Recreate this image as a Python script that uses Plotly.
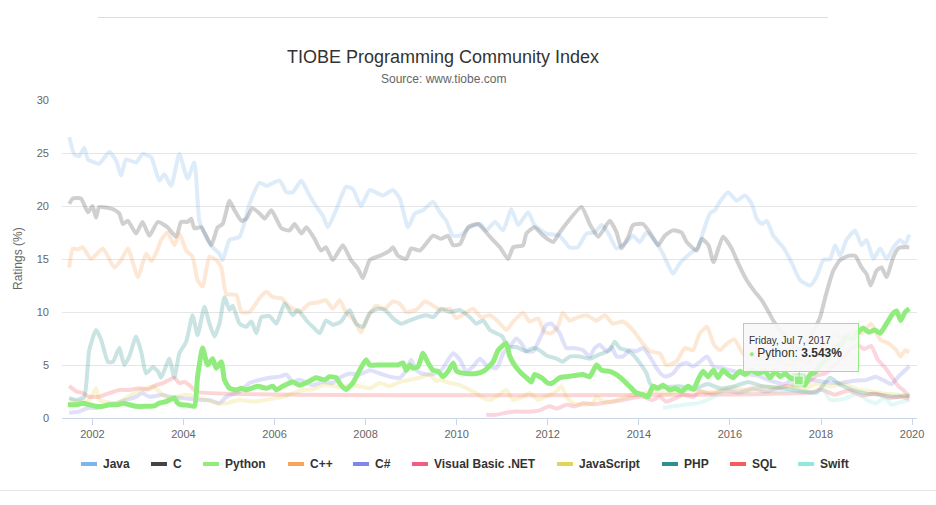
import plotly.graph_objects as go
from datetime import datetime

# ---------------- data (decimal year, rating %) ----------------
java_t = [2001.49, 2001.6, 2001.71, 2001.82, 2001.9, 2002.15, 2002.37, 2002.52, 2002.63, 2002.74, 2002.96, 2003.1, 2003.29,
          2003.47, 2003.58, 2003.73, 2003.91, 2004.09, 2004.24, 2004.35, 2004.5, 2004.64, 2004.79, 2004.86, 2005.01, 2005.23,
          2005.45, 2005.67, 2005.82, 2006.11, 2006.26, 2006.4, 2006.59, 2006.73, 2006.91, 2007.06, 2007.17, 2007.35, 2007.57,
          2007.72, 2007.9, 2008.09, 2008.38, 2008.6, 2008.75, 2008.93, 2009.08, 2009.26, 2009.48, 2009.63, 2009.77, 2009.92,
          2010.07, 2010.29, 2010.51, 2010.65, 2010.84, 2011.02, 2011.2, 2011.35, 2011.57, 2011.71, 2011.97, 2012.26, 2012.48,
          2012.66, 2012.85, 2013.03, 2013.18, 2013.32, 2013.51, 2013.73, 2013.87, 2014.02, 2014.17, 2014.35, 2014.53, 2014.75,
          2014.9, 2015.12, 2015.3, 2015.41, 2015.56, 2015.67, 2015.78, 2015.96, 2016.15, 2016.33, 2016.48, 2016.59, 2016.7,
          2016.81, 2016.95, 2017.17, 2017.35, 2017.54, 2017.76, 2017.9, 2018.05, 2018.2, 2018.31, 2018.42, 2018.56, 2018.75,
          2018.89, 2019.0, 2019.15, 2019.3, 2019.44, 2019.59, 2019.74, 2019.85, 2019.94]
java_v = [26.5, 24.9, 24.7, 25.5, 24.4, 24.0, 25.1, 24.3, 22.9, 24.4, 24.1, 24.9, 24.6,
          22.4, 23.0, 21.9, 24.9, 22.6, 24.1, 18.6, 17.1, 16.1, 15.5, 14.9, 16.8, 17.1,
          20.2, 22.2, 21.9, 22.4, 21.3, 21.3, 22.4, 21.3, 20.0, 19.1, 18.0, 19.6, 21.8,
          21.6, 20.0, 21.5, 21.0, 21.5, 20.7, 18.0, 19.3, 19.6, 20.4, 19.4, 18.6, 17.2,
          17.2, 18.0, 18.3, 17.7, 18.5, 17.7, 19.7, 18.2, 19.4, 18.2, 17.4, 17.2, 16.1,
          16.1, 17.4, 17.5, 18.2, 17.5, 16.0, 16.6, 17.2, 16.6, 17.5, 16.8, 15.5, 13.6,
          14.6, 15.5, 16.1, 17.5, 19.3, 19.6, 20.4, 21.3, 20.5, 21.0, 20.2, 18.8, 18.3,
          18.6, 17.2, 16.1, 14.7, 13.0, 12.5, 13.3, 14.9, 15.0, 16.3, 15.3, 16.8, 17.7,
          16.3, 16.8, 15.0, 16.0, 15.0, 16.1, 16.8, 16.4, 17.3]

c_t = [2001.49, 2001.57, 2001.75, 2001.9, 2002.0, 2002.08, 2002.15, 2002.45, 2002.59, 2002.67, 2002.78, 2002.96, 2003.1,
       2003.25, 2003.44, 2003.65, 2003.84, 2003.95, 2004.09, 2004.17, 2004.24, 2004.39, 2004.61, 2004.75, 2004.86, 2005.01,
       2005.12, 2005.27, 2005.38, 2005.51, 2005.67, 2005.78, 2005.93, 2006.15, 2006.33, 2006.44, 2006.59, 2006.7, 2006.88,
       2007.02, 2007.13, 2007.28, 2007.5, 2007.68, 2007.83, 2007.94, 2008.09, 2008.31, 2008.53, 2008.6, 2008.71, 2008.89,
       2009.0, 2009.19, 2009.48, 2009.66, 2009.81, 2009.92, 2010.07, 2010.25, 2010.47, 2010.73, 2010.95, 2011.13, 2011.24,
       2011.46, 2011.53, 2011.71, 2011.9, 2012.12, 2012.26, 2012.74, 2012.92, 2013.11, 2013.36, 2013.51, 2013.62, 2013.77,
       2013.87, 2014.09, 2014.24, 2014.42, 2014.57, 2014.75, 2014.94, 2015.05, 2015.27, 2015.38, 2015.53, 2015.64, 2015.85,
       2016.04, 2016.15, 2016.37, 2016.55, 2016.7, 2016.85, 2016.95, 2017.15, 2017.35, 2017.55, 2017.75, 2017.98, 2018.1,
       2018.27, 2018.42, 2018.6, 2018.75, 2018.89, 2019.0, 2019.09, 2019.22, 2019.33, 2019.44, 2019.59, 2019.7, 2019.78,
       2019.94]
c_v = [20.2, 20.7, 20.7, 19.4, 20.0, 18.9, 19.9, 19.7, 19.3, 18.3, 18.6, 17.4, 18.5,
       17.2, 18.5, 18.0, 17.1, 18.5, 18.5, 18.8, 17.9, 18.0, 16.3, 18.0, 18.3, 20.5,
       19.6, 18.6, 18.8, 19.8, 19.3, 18.8, 19.6, 17.9, 17.7, 18.3, 17.4, 18.0, 16.9,
       15.8, 16.1, 14.9, 16.3, 14.9, 14.1, 13.2, 14.9, 15.3, 15.8, 16.1, 15.3, 15.0,
       16.0, 15.8, 17.2, 16.9, 17.2, 16.3, 16.4, 18.0, 18.3, 17.1, 16.1, 15.0, 16.1,
       16.3, 17.4, 18.0, 17.2, 16.6, 17.5, 19.9, 18.3, 17.1, 18.6, 17.5, 16.0, 17.1,
       18.2, 18.3, 17.5, 16.3, 17.2, 17.7, 17.5, 16.6, 15.8, 16.9, 16.3, 14.7, 17.1,
       16.0, 14.9, 13.0, 11.9, 11.1, 10.0, 9.2, 8.0, 7.0, 6.5, 7.5, 9.5, 11.5,
       13.9, 14.9, 15.3, 15.3, 14.2, 13.6, 12.5, 13.9, 14.2, 13.3, 15.2, 16.0, 16.1,
       16.1]

python_t = [2001.46, 2001.65, 2001.8, 2001.93, 2002.08, 2002.23, 2002.37, 2002.55, 2002.67, 2002.81, 2002.96, 2003.18,
            2003.36, 2003.47, 2003.62, 2003.8, 2003.87, 2003.95, 2004.1, 2004.24, 2004.31, 2004.42, 2004.53, 2004.64,
            2004.72, 2004.83, 2004.9, 2005.01, 2005.16, 2005.27, 2005.38, 2005.49, 2005.63, 2005.82, 2005.96, 2006.04,
            2006.18, 2006.4, 2006.55, 2006.73, 2006.91, 2007.1, 2007.21, 2007.35, 2007.46, 2007.57, 2007.72, 2007.87,
            2008.01, 2008.09, 2008.3, 2008.53, 2008.71, 2008.82, 2008.89, 2008.97, 2009.04, 2009.15, 2009.26, 2009.37,
            2009.48, 2009.59, 2009.7, 2009.81, 2009.92, 2010.0, 2010.21, 2010.43, 2010.62, 2010.8, 2010.91, 2011.09,
            2011.16, 2011.24, 2011.38, 2011.53, 2011.64, 2011.71, 2011.86, 2012.0, 2012.1, 2012.26, 2012.41, 2012.59,
            2012.77, 2012.92, 2013.07, 2013.18, 2013.36, 2013.51, 2013.65, 2013.77, 2013.87, 2013.95, 2014.09, 2014.2,
            2014.31, 2014.42, 2014.53, 2014.68, 2014.8, 2014.94, 2015.08, 2015.2, 2015.3, 2015.41, 2015.52, 2015.64,
            2015.74, 2015.85, 2015.96, 2016.07, 2016.22, 2016.33, 2016.47, 2016.62, 2016.77, 2016.88, 2016.99, 2017.1,
            2017.21, 2017.32, 2017.512, 2017.65, 2017.76, 2017.87, 2017.98, 2018.12, 2018.27, 2018.42, 2018.56, 2018.7,
            2018.8, 2018.92, 2019.05, 2019.18, 2019.3, 2019.44, 2019.59, 2019.66, 2019.75, 2019.85, 2019.94]
python_v = [1.25, 1.25, 1.4, 1.25, 1.1, 1.1, 1.25, 1.25, 1.4, 1.25, 1.1, 1.1,
            1.15, 1.4, 1.55, 1.9, 1.4, 1.25, 1.2, 1.1, 3.9, 6.6, 5.0, 5.6,
            4.7, 5.3, 3.6, 2.8, 2.65, 2.8, 2.65, 2.8, 3.0, 2.8, 3.0, 2.65,
            3.0, 3.4, 3.1, 3.4, 3.8, 3.6, 3.9, 3.8, 3.1, 2.7, 3.3, 4.5,
            5.5, 5.0, 5.0, 5.0, 5.0, 5.2, 4.5, 5.0, 4.7, 4.85, 6.1, 5.2,
            4.5, 4.4, 3.9, 4.4, 5.2, 4.4, 4.2, 4.2, 4.5, 5.3, 6.4, 7.05,
            5.9, 5.2, 4.4, 3.8, 3.4, 4.1, 3.8, 3.3, 3.3, 3.8, 3.9, 4.0,
            4.1, 3.9, 5.0, 4.5, 4.4, 4.1, 3.6, 3.1, 2.65, 2.35, 2.2, 2.0,
            3.0, 2.8, 3.1, 2.65, 2.8, 2.5, 3.0, 2.7, 3.6, 4.4, 3.9, 4.5,
            3.8, 4.5, 4.1, 3.8, 4.4, 4.1, 4.5, 4.2, 4.4, 3.8, 4.4, 3.9,
            4.2, 3.8, 3.543, 3.1, 4.1, 4.3, 5.0, 5.5, 6.4, 6.9, 7.6, 7.5,
            8.0, 8.5, 8.1, 8.3, 8.0, 8.9, 9.9, 10.1, 9.2, 10.0, 10.3]

cpp_t = [2001.49, 2001.57, 2001.68, 2001.79, 2001.97, 2002.23, 2002.48, 2002.63, 2002.78, 2003.0, 2003.18, 2003.3, 2003.44,
         2003.51, 2003.65, 2003.8, 2003.91, 2004.06, 2004.2, 2004.31, 2004.42, 2004.57, 2004.72, 2004.83, 2004.94, 2005.16,
         2005.27, 2005.45, 2005.67, 2005.82, 2005.96, 2006.15, 2006.33, 2006.55, 2006.77, 2006.95, 2007.13, 2007.28,
         2007.43, 2007.57, 2007.76, 2007.9, 2008.05, 2008.23, 2008.42, 2008.6, 2008.75, 2008.89, 2009.11, 2009.3, 2009.48,
         2009.63, 2009.85, 2009.99, 2010.18, 2010.36, 2010.54, 2010.73, 2010.91, 2011.09, 2011.24, 2011.46, 2011.6,
         2011.79, 2011.93, 2012.08, 2012.22, 2012.33, 2012.48, 2012.66, 2012.85, 2013.07, 2013.25, 2013.43, 2013.65,
         2013.87, 2014.09, 2014.24, 2014.46, 2014.6, 2014.82, 2015.01, 2015.19, 2015.34, 2015.5, 2015.64, 2015.78,
         2015.93, 2016.1, 2016.3, 2016.5, 2016.7, 2016.9, 2017.1, 2017.3, 2017.5, 2017.7, 2017.9, 2018.1, 2018.3, 2018.5,
         2018.7, 2018.9, 2019.1, 2019.3, 2019.5, 2019.65, 2019.75, 2019.85, 2019.94]
cpp_v = [14.2, 16.0, 15.9, 16.1, 15.0, 16.0, 14.2, 14.9, 16.0, 13.3, 15.5, 14.8, 16.0,
         16.8, 17.5, 16.3, 17.4, 15.8, 15.2, 13.0, 12.4, 15.2, 14.9, 14.2, 11.7, 11.6,
         10.0, 10.0, 11.3, 11.9, 11.4, 11.3, 10.5, 10.0, 10.8, 10.9, 11.1, 10.3,
         11.1, 10.0, 9.2, 8.1, 9.5, 10.6, 10.3, 11.0, 10.8, 10.0, 10.2, 11.0, 10.6,
         10.2, 10.3, 9.4, 9.9, 10.3, 9.5, 9.7, 9.1, 8.3, 9.1, 9.9, 9.1,
         9.4, 8.1, 8.0, 8.6, 9.9, 9.2, 9.5, 9.7, 9.2, 9.7, 8.9, 9.1,
         8.3, 7.0, 6.3, 6.1, 5.0, 5.3, 6.6, 6.4, 8.0, 8.6, 7.0, 6.4,
         7.0, 7.4, 6.0, 5.8, 5.5, 5.7, 5.4, 5.0, 5.6, 5.2, 5.8, 7.4, 7.9, 7.5,
         8.2, 8.0, 8.9, 7.4, 7.0, 6.4, 5.8, 6.4, 6.2]

csharp_t = [2001.49, 2001.7, 2001.9, 2002.08, 2002.3, 2002.52, 2002.74, 2002.96, 2003.1, 2003.25, 2003.55, 2003.7, 2003.91,
            2004.35, 2004.57, 2004.79, 2004.94, 2005.23, 2005.45, 2005.67, 2005.89, 2006.11, 2006.26, 2006.4, 2006.55,
            2006.84, 2007.06, 2007.28, 2007.43, 2007.65, 2007.87, 2008.09, 2008.31, 2008.53, 2008.75, 2008.89, 2009.0,
            2009.1, 2009.22, 2009.44, 2009.66, 2009.92, 2010.07, 2010.21, 2010.36, 2010.51, 2010.65, 2010.87, 2010.95,
            2011.02, 2011.16, 2011.31, 2011.42, 2011.53, 2011.68, 2011.86, 2011.97, 2012.08, 2012.26, 2012.41, 2012.55,
            2012.77, 2012.92, 2013.03, 2013.14, 2013.29, 2013.4, 2013.51, 2013.65, 2013.8, 2013.95, 2014.09, 2014.24,
            2014.39, 2014.5, 2014.6, 2014.75, 2014.9, 2015.05, 2015.19, 2015.34, 2015.5, 2015.64, 2015.85, 2016.0, 2016.3,
            2016.6, 2016.9, 2017.2, 2017.5, 2017.8, 2018.1, 2018.4, 2018.7, 2019.0, 2019.2, 2019.4, 2019.55, 2019.7,
            2019.85, 2019.94]
csharp_v = [0.5, 0.6, 0.95, 0.95, 1.25, 1.4, 1.7, 2.0, 2.35, 2.0, 2.2, 2.0, 1.9,
            1.7, 1.7, 1.4, 2.0, 2.5, 3.3, 3.6, 3.8, 3.9, 4.1, 3.4, 3.6,
            3.1, 3.4, 3.3, 3.8, 4.2, 4.1, 4.5, 4.2, 3.9, 3.8, 4.5, 5.5,
            4.6, 4.2, 4.1, 4.5, 6.1, 5.5, 4.4, 4.85, 5.6, 5.0, 4.7, 5.3,
            6.1, 6.7, 7.5, 7.05, 6.3, 6.3, 7.8, 8.8, 8.9, 8.0, 6.6, 6.6,
            6.4, 5.8, 6.6, 6.9, 6.3, 6.7, 5.8, 5.8, 6.4, 6.3, 6.6, 5.8,
            4.7, 4.1, 3.9, 4.2, 5.0, 5.2, 4.85, 5.3, 5.8, 4.85, 4.7, 4.5, 4.2,
            4.0, 3.5, 3.2, 4.0, 3.6, 3.4, 3.3, 3.5, 3.6, 3.9, 3.5, 3.2, 3.9,
            4.5, 4.9]

vbnet_t = [2010.65, 2010.87, 2011.09, 2011.24, 2011.6, 2011.8, 2012.04, 2012.2, 2012.41, 2012.6, 2012.77, 2012.99, 2013.2,
           2013.43, 2013.65, 2013.87, 2014.09, 2014.3, 2014.46, 2014.6, 2014.82, 2014.97, 2015.2, 2015.34, 2015.6, 2015.9,
           2016.2, 2016.5, 2016.8, 2017.1, 2017.4, 2017.7, 2017.9, 2018.1, 2018.3, 2018.5, 2018.65, 2018.8, 2018.95,
           2019.1, 2019.25, 2019.4, 2019.55, 2019.7, 2019.82, 2019.94]
vbnet_v = [0.3, 0.3, 0.5, 0.6, 0.6, 0.7, 1.1, 0.9, 1.25, 1.1, 1.4, 1.3, 1.4,
           1.55, 1.7, 1.9, 2.0, 1.7, 2.0, 1.55, 1.9, 2.2, 2.0, 2.5, 2.3, 2.6,
           2.4, 2.8, 2.5, 2.9, 3.1, 3.3, 4.0, 4.2, 5.0, 5.8, 6.4, 6.9, 6.5,
           6.8, 5.5, 4.8, 3.9, 3.0, 2.6, 2.0]

js_t = [2001.49, 2001.71, 2001.93, 2002.08, 2002.15, 2002.52, 2002.74, 2003.0, 2003.18, 2003.33, 2003.47, 2003.62, 2003.84,
        2004.06, 2004.28, 2004.5, 2004.72, 2004.94, 2005.23, 2005.52, 2005.82, 2006.07, 2006.2, 2006.4, 2006.62, 2006.84,
        2006.99, 2007.21, 2007.43, 2007.65, 2007.87, 2008.09, 2008.31, 2008.53, 2008.75, 2008.97, 2009.19, 2009.41,
        2009.55, 2009.63, 2009.85, 2010.07, 2010.29, 2010.43, 2010.58, 2010.73, 2010.9, 2011.09, 2011.24, 2011.45, 2011.6,
        2011.79, 2011.95, 2012.19, 2012.3, 2012.41, 2012.55, 2012.77, 2012.99, 2013.07, 2013.2, 2013.43, 2013.65, 2013.87,
        2014.09, 2014.3, 2014.6, 2014.9, 2015.2, 2015.5, 2015.8, 2016.1, 2016.4, 2016.7, 2017.0, 2017.3, 2017.6, 2017.9,
        2018.2, 2018.5, 2018.8, 2019.1, 2019.4, 2019.7, 2019.94]
js_v = [1.7, 1.55, 1.7, 2.8, 1.7, 1.4, 1.9, 2.5, 2.8, 3.0, 2.5, 1.9, 2.0,
        2.2, 2.0, 1.7, 1.4, 1.4, 1.7, 1.55, 1.7, 1.9, 2.0, 2.35, 2.65, 2.7,
        3.0, 3.1, 2.9, 3.1, 3.0, 2.8, 3.3, 3.0, 3.4, 3.6, 3.8, 4.1,
        3.5, 3.6, 3.3, 3.1, 2.65, 2.35, 1.9, 1.7, 2.1, 2.65, 1.7, 2.0, 2.35,
        1.7, 2.0, 2.5, 3.0, 2.0, 1.4, 1.25, 1.4, 2.0, 1.6, 1.55, 1.9, 2.2,
        2.35, 2.5, 2.3, 2.5, 2.7, 2.4, 2.6, 2.9, 2.6, 3.0, 2.8, 3.0, 2.7, 3.2,
        3.0, 3.2, 2.7, 2.5, 2.3, 2.2, 2.1]

php_t = [2001.49, 2001.65, 2001.82, 2001.93, 2002.08, 2002.19, 2002.34, 2002.45, 2002.59, 2002.7, 2002.81, 2002.96, 2003.07,
         2003.18, 2003.33, 2003.44, 2003.51, 2003.69, 2003.8, 2003.91, 2004.06, 2004.2, 2004.31, 2004.46, 2004.57, 2004.68,
         2004.79, 2004.9, 2005.01, 2005.08, 2005.23, 2005.38, 2005.49, 2005.6, 2005.71, 2005.89, 2006.04, 2006.22, 2006.4,
         2006.51, 2006.7, 2006.84, 2006.99, 2007.13, 2007.28, 2007.46, 2007.65, 2007.79, 2007.94, 2008.09, 2008.27,
         2008.42, 2008.6, 2008.78, 2008.97, 2009.15, 2009.33, 2009.48, 2009.66, 2009.85, 2010.07, 2010.29, 2010.43,
         2010.58, 2010.73, 2010.87, 2011.0, 2011.13, 2011.31, 2011.53, 2011.68, 2011.82, 2011.97, 2012.19, 2012.33,
         2012.48, 2012.7, 2012.92, 2013.14, 2013.36, 2013.47, 2013.58, 2013.73, 2013.87, 2014.02, 2014.17, 2014.24,
         2014.35, 2014.6, 2014.9, 2015.2, 2015.5, 2015.8, 2016.1, 2016.4, 2016.7, 2017.0, 2017.3, 2017.6, 2017.9, 2018.2,
         2018.4, 2018.7, 2019.0, 2019.3, 2019.6, 2019.94]
php_v = [1.9, 1.7, 2.0, 6.4, 8.3, 7.4, 5.3, 5.3, 6.6, 5.0, 5.8, 7.7, 6.3,
         4.2, 4.8, 4.4, 3.8, 5.6, 3.8, 6.1, 7.2, 9.7, 7.8, 10.5, 8.9, 7.7,
         8.9, 11.4, 10.2, 10.6, 8.9, 8.6, 9.1, 8.0, 9.5, 9.6, 8.9, 10.8, 9.7,
         10.2, 9.2, 8.6, 8.0, 9.2, 8.8, 9.1, 10.2, 8.9, 8.6, 9.9, 10.3,
         10.2, 9.4, 8.9, 9.2, 9.5, 9.7, 9.5, 10.3, 10.0, 10.2, 9.5, 8.9,
         9.2, 8.3, 8.0, 7.7, 6.7, 6.7, 6.3, 6.6, 6.4, 5.9, 5.6, 5.3,
         5.8, 5.8, 5.6, 6.0, 6.4, 7.2, 6.6, 6.4, 6.0, 5.2, 4.2, 3.3,
         2.8, 2.9, 3.0, 2.7, 3.2, 2.8, 3.0, 3.4, 3.0, 2.9, 2.7, 2.5, 2.4, 3.8,
         3.2, 2.6, 2.3, 2.2, 2.0, 2.1]

sql_t = [2001.49, 2001.65, 2001.79, 2001.93, 2002.15, 2002.37, 2002.59, 2002.81, 2003.03, 2003.22, 2003.4, 2003.55, 2003.69,
         2003.8, 2003.91, 2004.02, 2004.13, 2004.24, 2004.35, 2017.8, 2018.0, 2018.3, 2018.6, 2018.9, 2019.2, 2019.5,
         2019.75, 2019.94]
sql_v = [3.0, 2.5, 2.35, 2.0, 2.0, 2.35, 2.65, 2.65, 2.8, 2.7, 3.1, 3.3, 3.6,
         3.8, 3.3, 3.4, 3.1, 2.65, 2.42, 2.42, 2.7, 2.2, 2.6, 2.1, 2.3, 1.9,
         2.0, 1.8]

swift_t = [2014.53, 2014.75, 2015.0, 2015.3, 2015.5, 2015.65, 2015.85, 2016.07, 2016.3, 2016.5, 2016.8, 2017.1, 2017.5,
           2017.8, 2018.05, 2018.2, 2018.5, 2018.85, 2019.0, 2019.2, 2019.4, 2019.55, 2019.75, 2019.94]
swift_v = [0.95, 1.1, 1.25, 1.4, 1.7, 2.0, 2.5, 2.65, 2.4, 2.65, 2.5, 2.6, 2.5,
           2.4, 2.65, 1.7, 1.8, 2.35, 1.7, 1.4, 1.9, 1.25, 1.5, 1.7]

series_names = ["Java", "C", "Python", "C++", "C#", "Visual Basic .NET", "JavaScript", "PHP", "SQL", "Swift"]
series_colors = ["#7cb5ec", "#434348", "#90ed7d", "#f7a35c", "#8085e9", "#f15c80", "#e4d354", "#2b908f", "#f45b5b", "#91e8e1"]
series_t = [java_t, c_t, python_t, cpp_t, csharp_t, vbnet_t, js_t, php_t, sql_t, swift_t]
series_v = [java_v, c_v, python_v, cpp_v, csharp_v, vbnet_v, js_v, php_v, sql_v, swift_v]

x_tick_years = [2002, 2004, 2006, 2008, 2010, 2012, 2014, 2016, 2018, 2020]
hover_date = "2017-07-07"
hover_value = 3.543
hover_label = "Friday, Jul 7, 2017"
hover_series = "Python"


def to_date(v):
    y = int(v)
    a = datetime(y, 1, 1)
    b = datetime(y + 1, 1, 1)
    return a + (b - a) * (v - y)


def rgba(hexc, a):
    h = hexc.lstrip("#")
    return "rgba(%d,%d,%d,%.2f)" % (int(h[0:2], 16), int(h[2:4], 16), int(h[4:6], 16), a)


# ---------------- layout geometry (pixels) ----------------
W, H = 936, 505
PL, PR, PT, PB = 62, 917, 100, 418


def px(p):
    return (p - PL) / (PR - PL)


def py(p):
    return (PB - p) / (PB - PT)


FONT = "Liberation Sans, Arial, Helvetica, sans-serif"

fig = go.Figure()
order = [i for i in range(len(series_names)) if series_names[i] != hover_series] + \
        [series_names.index(hover_series)]
for i in order:
    name = series_names[i]
    active = name == hover_series
    fig.add_trace(go.Scatter(
        x=[to_date(t) for t in series_t[i]], y=series_v[i], mode="lines", name=name,
        line=dict(color=series_colors[i] if active else rgba(series_colors[i], 0.25),
                  width=5 if active else 4, shape="spline", smoothing=0.5),
        hoverinfo="skip", showlegend=False))

# hovered point marker (halo + square)
hc = series_colors[series_names.index(hover_series)]
fig.add_trace(go.Scatter(x=[hover_date], y=[hover_value], mode="markers", showlegend=False, hoverinfo="skip",
                         marker=dict(symbol="square", size=15, color=rgba(hc, 0.35), line=dict(width=0))))
fig.add_trace(go.Scatter(x=[hover_date], y=[hover_value], mode="markers", showlegend=False, hoverinfo="skip",
                         marker=dict(symbol="square", size=9, color=hc, line=dict(width=1, color="#ffffff"))))

annotations = []
# tooltip
annotations.append(dict(
    x=hover_date, y=hover_value, xref="x", yref="y",
    text=("<span style='font-size:10px'>%s</span><br>"
          "<span style='color:%s;font-size:9px'>\u25CF</span> "
          "<span style='font-size:12px'>%s: <b>%.3f%%</b></span>") % (hover_label, hc, hover_series, hover_value),
    showarrow=True, ax=2, ay=-33, arrowcolor=hc, arrowwidth=1, arrowhead=0, standoff=2,
    align="left", valign="middle", width=104, height=37, borderpad=5,
    bgcolor="rgba(247,247,247,0.9)", bordercolor=hc, borderwidth=1,
    font=dict(family=FONT, size=10, color="#333333")))

# subtitle
annotations.append(dict(x=px(443), y=py(79), xref="paper", yref="paper", text="Source: www.tiobe.com",
                        showarrow=False, xanchor="center", yanchor="middle",
                        font=dict(family=FONT, size=12, color="#666666")))
# y axis title
annotations.append(dict(x=px(18), y=py(259), xref="paper", yref="paper", text="Ratings (%)", textangle=-90,
                        showarrow=False, xanchor="center", yanchor="middle",
                        font=dict(family=FONT, size=12, color="#666666")))

# custom legend
legend_sym_x = [81, 151, 203, 288, 353, 412, 557, 662, 730, 798]
shapes = []
LY = 464
for name, col, sx in zip(series_names, series_colors, legend_sym_x):
    shapes.append(dict(type="line", xref="paper", yref="paper", x0=px(sx), x1=px(sx + 16), y0=py(LY), y1=py(LY),
                       line=dict(color=col, width=4)))
    annotations.append(dict(x=px(sx + 20), y=py(LY), xref="paper", yref="paper", text="<b>%s</b>" % name,
                            showarrow=False, xanchor="left", yanchor="middle",
                            font=dict(family=FONT, size=12, color="#333333")))

# decorative separator lines
shapes.append(dict(type="line", xref="paper", yref="paper", x0=px(98), x1=px(828), y0=py(17.5), y1=py(17.5),
                   line=dict(color="#dddddd", width=1)))
shapes.append(dict(type="line", xref="paper", yref="paper", x0=px(0), x1=px(936), y0=py(490.5), y1=py(490.5),
                   line=dict(color="#e6e6e6", width=1)))

fig.update_layout(
    width=W, height=H, autosize=False,
    margin=dict(l=PL, r=W - PR, t=PT, b=H - PB),
    paper_bgcolor="#ffffff", plot_bgcolor="#ffffff",
    title=dict(text="TIOBE Programming Community Index", x=443 / W, xref="container", xanchor="center",
               y=1 - 57 / H, yref="container", yanchor="middle",
               font=dict(family=FONT, size=18, color="#333333")),
    font=dict(family=FONT, size=11, color="#666666"),
    showlegend=False,
    annotations=annotations, shapes=shapes,
    xaxis=dict(type="date", range=["2001-05-02", "2020-02-10"],
               tickvals=["%d-01-01" % y for y in x_tick_years], ticktext=[str(y) for y in x_tick_years],
               showgrid=False, zeroline=False, showline=True, linecolor="#ccd6eb", linewidth=1,
               ticks="outside", ticklen=6, tickcolor="#ccd6eb", tickwidth=1,
               tickfont=dict(family=FONT, size=11, color="#666666")),
    yaxis=dict(range=[0, 30], tick0=0, dtick=5, showgrid=True, gridcolor="#e6e6e6", gridwidth=1,
               zeroline=False, showline=False, ticks="", ticklabelstandoff=12,
               tickfont=dict(family=FONT, size=11, color="#666666")),
)

fig.write_html("out.html", config={"displayModeBar": False},
               post_script="document.body.style.margin='0';document.body.style.overflow='hidden';")
